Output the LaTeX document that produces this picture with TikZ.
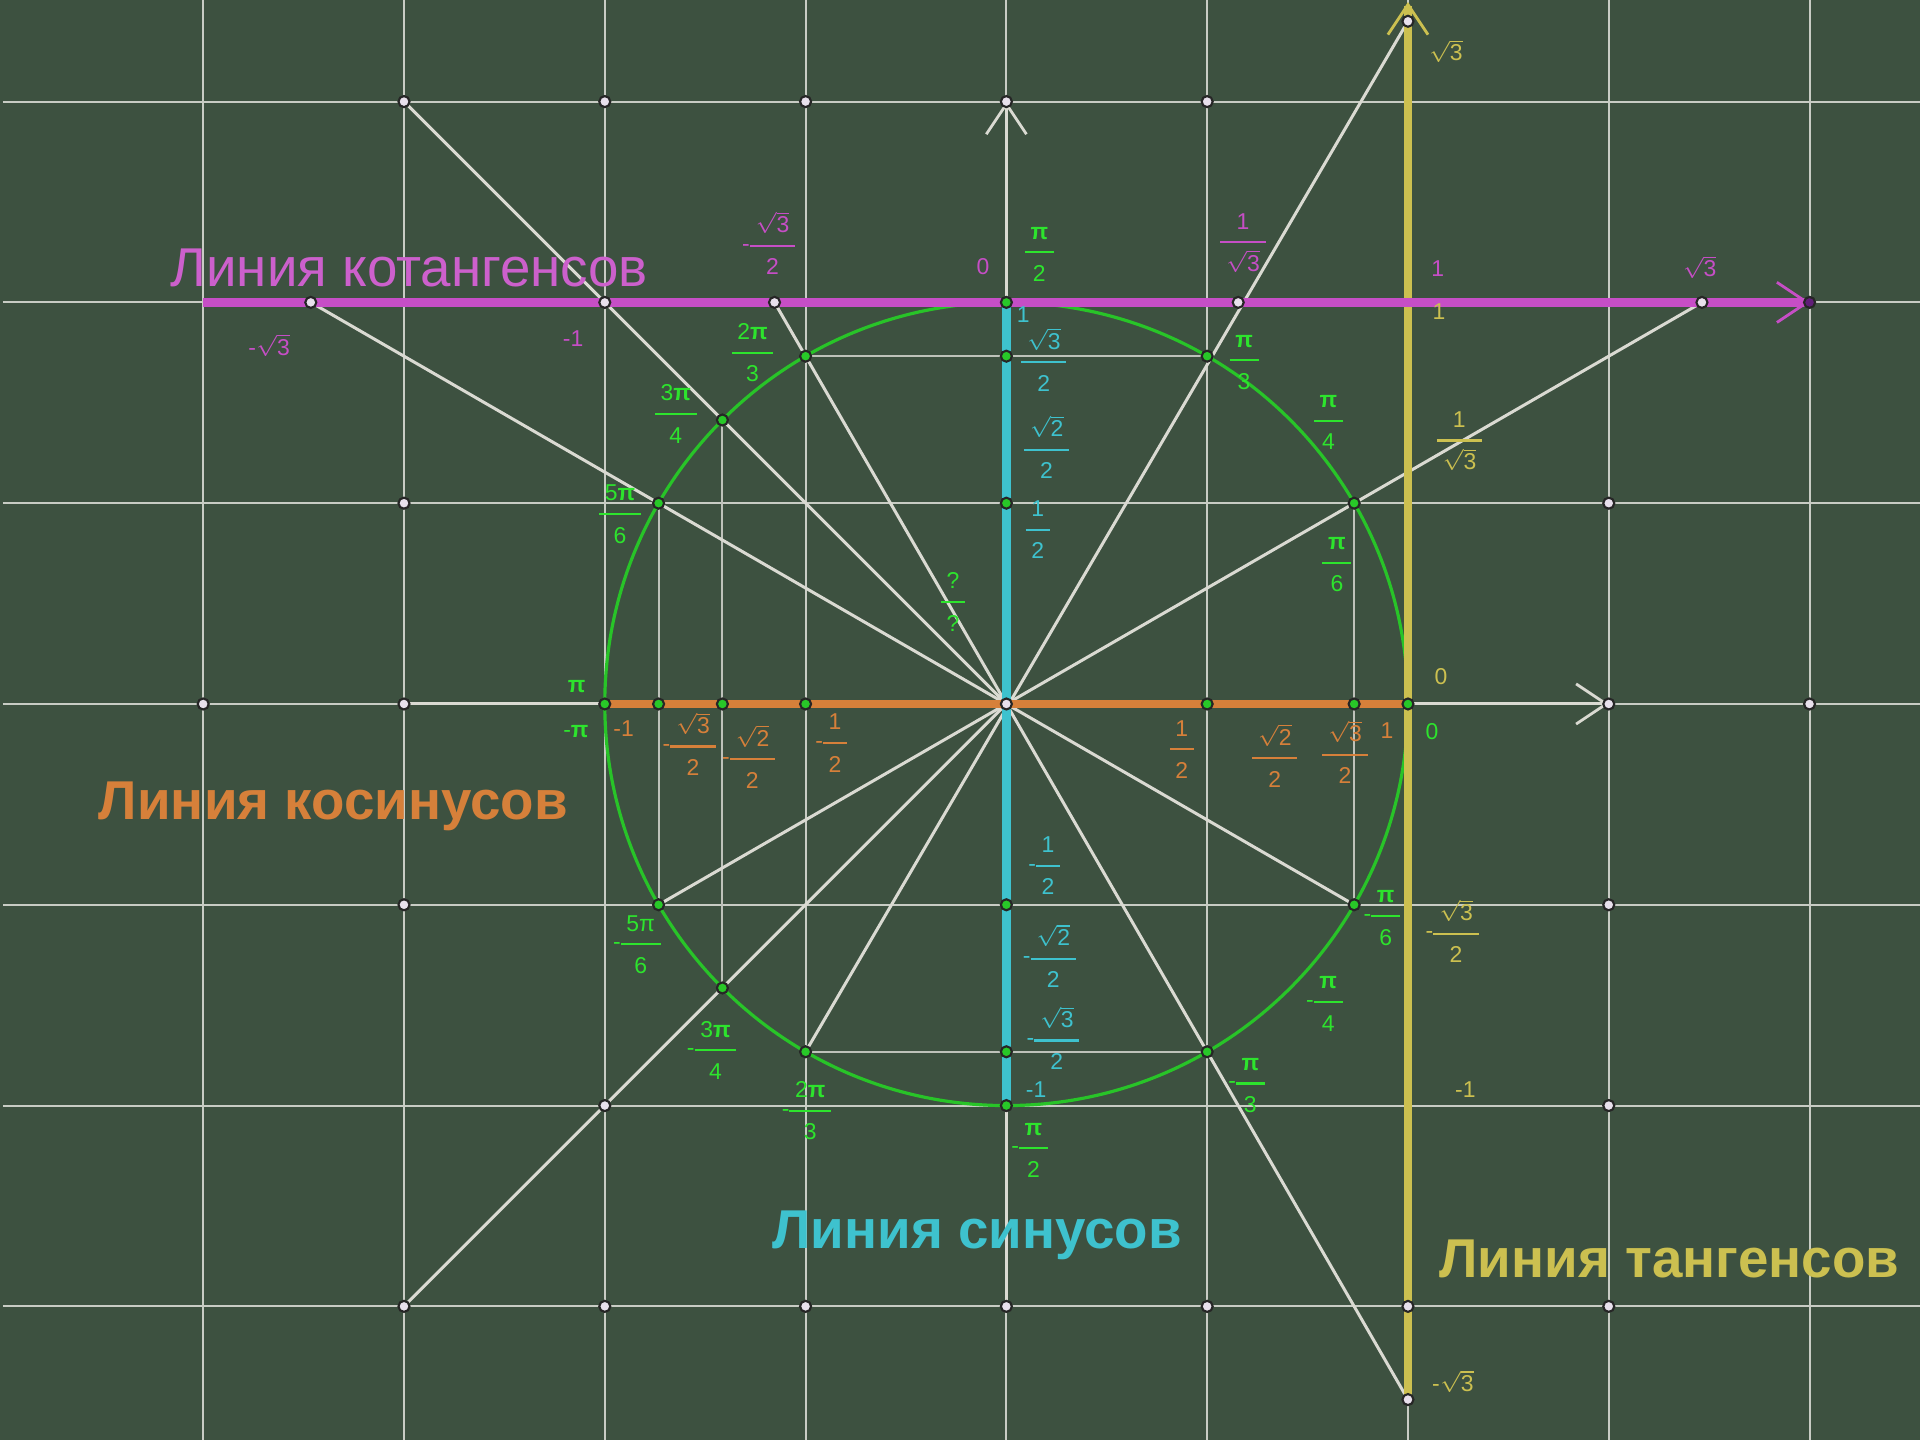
\documentclass[tikz,border=0pt]{standalone}
\usepackage{fontspec}
\setmainfont{Liberation Sans}
\usetikzlibrary{arrows.meta}

\definecolor{board}{RGB}{61,81,64}
\definecolor{gridc}{RGB}{200,204,196}
\definecolor{rayc}{RGB}{218,218,210}
\definecolor{projc}{RGB}{190,194,186}
\definecolor{circc}{RGB}{40,196,40}
\definecolor{dotg}{RGB}{40,200,40}
\definecolor{dotw}{RGB}{232,224,236}
\definecolor{dotp}{RGB}{96,30,120}
\definecolor{labg}{RGB}{45,228,45}
\definecolor{sinc}{RGB}{62,194,206}
\definecolor{cosc}{RGB}{214,128,58}
\definecolor{tanc}{RGB}{204,192,80}
\definecolor{cotc}{RGB}{198,78,198}

\newcommand{\fr}[2]{{\renewcommand{\arraystretch}{1.42}\setlength{\tabcolsep}{1.6pt}\setlength{\arrayrulewidth}{0.6pt}\begin{tabular}{c}#1\\\hline #2\end{tabular}}}
\newcommand{\mfr}[2]{-\fr{#1}{#2}}
\newcommand{\sq}[1]{$\sqrt{\hbox{#1}}$}
\newcommand{\bpi}{\textbf{π}}

\tikzset{
  barb/.tip={Straight Barb[length=3mm,width=4mm,line width=0.8pt]},
  gridline/.style={draw=gridc, line width=0.55pt},
  ray/.style={draw=rayc, line width=0.85pt},
  proj/.style={draw=projc, line width=0.6pt},
  trig/.style={line width=2.4pt},
  gdot/.style={circle, fill=dotg, draw=black!85, line width=0.6pt, inner sep=0pt, minimum size=1.1mm},
  wdot/.style={gdot, fill=dotw},
  lab/.style={font=\fontsize{6.5}{8}\selectfont, inner sep=0pt},
  linetitle/.style={font=\fontsize{15.5}{18}\selectfont\bfseries, inner sep=0pt, anchor=base}
}

\begin{document}
\begin{tikzpicture}[x=4cm, y=4cm]
    \useasboundingbox (-2.506,-1.833) rectangle (2.275,1.753);
    \fill[board] (-2.506,-1.833) rectangle (2.275,1.753);
    \draw[gridline, step=0.5] (-2.499,-1.833) grid (2.275,1.753);

    % points
    \coordinate (O) at (0,0);
    \foreach \a/\n in {0/a0,30/a30,60/a60,90/a90,120/a120,135/a135,150/a150,180/a180,
        -30/m30,-60/m60,-90/m90,-120/m120,-135/m135,-150/m150}
        \coordinate (\n) at (\a:1);
    \coordinate (s1) at (0,{sqrt(3)/2});
    \coordinate (s2) at (0,0.5);
    \coordinate (s3) at (0,-0.5);
    \coordinate (s4) at (0,{-sqrt(3)/2});
    \coordinate (c1) at ({-sqrt(3)/2},0);
    \coordinate (c2) at ({-sqrt(2)/2},0);
    \coordinate (c3) at (-0.5,0);
    \coordinate (c4) at (0.5,0);
    \coordinate (c5) at ({sqrt(3)/2},0);
    \coordinate (ks) at (-2,1);
    \coordinate (k1) at ({-sqrt(3)},1);
    \coordinate (k2) at (-1,1);
    \coordinate (k3) at ({-1/sqrt(3)},1);
    \coordinate (k4) at ({1/sqrt(3)},1);
    \coordinate (k5) at ({sqrt(3)},1);
    \coordinate (ke) at (2,1);
    \coordinate (t1) at (1,1.70);
    \coordinate (t2) at (1,{-sqrt(3)});
    \coordinate (te) at (1,1.748);
    \coordinate (xl) at (-1.5,0);
    \coordinate (xr) at (1.5,0);
    \coordinate (yb) at (0,-1.5);
    \coordinate (yt) at (0,1.5);
    \coordinate (g1) at (-1.5,1.5);
    \coordinate (g2) at (-1.5,-1.5);

    % projections and rays
    \draw[proj] (a120) -- (a60);
    \draw[proj] (m120) -- (m60);
    \draw[proj] (a150) -- (m150);
    \draw[proj] (a135) -- (m135);
    \draw[proj] (a30) -- (m30);
    \draw[ray] (k1) -- (m30);
    \draw[ray] (k3) -- (t2);
    \draw[ray] (m150) -- (k5);
    \draw[ray] (m120) -- (t1);
    \draw[ray] (g1) -- (O);
    \draw[ray] (g2) -- (O);
    \draw[ray, -barb] (xl) -- (xr);
    \draw[ray, -barb] (yb) -- (yt);

    \draw[draw=circc, line width=0.9pt] (O) circle (1);

    % the four lines
    \draw[trig, cosc] (a180) -- (a0);
    \draw[trig, sinc] (m90) -- (a90);
    \draw[trig, tanc, -barb] (t2) -- (te);
    \draw[trig, cotc, -barb] (ks) -- (ke);

    % dots
    \foreach \n in {a0,a30,a60,a90,a120,a135,a150,a180,m30,m60,m90,m120,m135,m150,
        s1,s2,s3,s4,c1,c2,c3,c4,c5}
        \node[gdot] (d\n) at (\n) {};
    \foreach \n in {O,k1,k2,k3,k4,k5,t1,t2}
        \node[wdot] (d\n) at (\n) {};
    \foreach \p [count=\i] in {(-1.5,1.5),(-1,1.5),(-0.5,1.5),(0,1.5),(0.5,1.5),
        (-1.5,0.5),(1.5,0.5),(-2,0),(-1.5,0),(1.5,0),(2,0),(-1.5,-0.5),(1.5,-0.5),
        (-1,-1),(1.5,-1),(-1.5,-1.5),(-1,-1.5),(-0.5,-1.5),(0,-1.5),(0.5,-1.5),
        (1,-1.5),(1.5,-1.5)}
        \node[wdot] (w\i) at \p {};
    \node[gdot, fill=dotp] (dke) at (ke) {};

    % angles
    \node[lab, labg] (gpi2) at (0.082,1.125) {\fr{\bpi}{2}};
    \node[lab, labg] (g2pi3) at (-0.632,0.875) {\fr{2\bpi}{3}};
    \node[lab, labg] (g3pi4) at (-0.823,0.722) {\fr{3\bpi}{4}};
    \node[lab, labg] (g5pi6) at (-0.962,0.473) {\fr{5\bpi}{6}};
    \node[lab, labg] (gpi) at (-1.07,0.043) {\bpi};
    \node[lab, labg] (gmpi) at (-1.072,-0.069) {-\bpi};
    \node[lab, labg] (gm5pi6) at (-0.92,-0.598) {\mfr{5π}{6}};
    \node[lab, labg] (gm3pi4) at (-0.734,-0.862) {\mfr{3\bpi}{4}};
    \node[lab, labg] (gm2pi3) at (-0.498,-1.013) {\mfr{2\bpi}{3}};
    \node[lab, labg] (gmpi2) at (0.058,-1.106) {\mfr{\bpi}{2}};
    \node[lab, labg] (gmpi3) at (0.598,-0.945) {\mfr{\bpi}{3}};
    \node[lab, labg] (gmpi4) at (0.792,-0.742) {\mfr{\bpi}{4}};
    \node[lab, labg] (gmpi6) at (0.935,-0.528) {\mfr{\bpi}{6}};
    \node[lab, labg] (gpi6) at (0.823,0.352) {\fr{\bpi}{6}};
    \node[lab, labg] (gpi4) at (0.802,0.705) {\fr{\bpi}{4}};
    \node[lab, labg] (gpi3) at (0.592,0.856) {\fr{\bpi}{3}};
    \node[lab, labg] (gzero) at (1.06,-0.068) {0};
    \node[lab, labg] (gq) at (-0.133,0.254) {\fr{?}{?}};

    % cosines
    \node[lab, cosc] (cm1) at (-0.953,-0.061) {-1};
    \node[lab, cosc] (cm3) at (-0.79,-0.106) {\mfr{\sq{3}}{2}};
    \node[lab, cosc] (cm2) at (-0.642,-0.138) {\mfr{\sq{2}}{2}};
    \node[lab, cosc] (cmh) at (-0.436,-0.097) {\mfr{1}{2}};
    \node[lab, cosc] (cph) at (0.437,-0.113) {\fr{1}{2}};
    \node[lab, cosc] (cp2) at (0.668,-0.135) {\fr{\sq{2}}{2}};
    \node[lab, cosc] (cp3) at (0.843,-0.126) {\fr{\sq{3}}{2}};
    \node[lab, cosc] (cp1) at (0.948,-0.066) {1};

    % sines
    \node[lab, sinc] (sp1) at (0.042,0.97) {1};
    \node[lab, sinc] (sp3) at (0.093,0.851) {\fr{\sq{3}}{2}};
    \node[lab, sinc] (sp2) at (0.1,0.633) {\fr{\sq{2}}{2}};
    \node[lab, sinc] (sph) at (0.078,0.434) {\fr{1}{2}};
    \node[lab, sinc] (smh) at (0.094,-0.403) {\mfr{1}{2}};
    \node[lab, sinc] (sm2) at (0.107,-0.634) {\mfr{\sq{2}}{2}};
    \node[lab, sinc] (sm3) at (0.116,-0.838) {\mfr{\sq{3}}{2}};
    \node[lab, sinc] (sm1) at (0.074,-0.961) {-1};

    % tangents
    \node[lab, tanc] (tp3) at (1.094,1.626) {\sq{3}};
    \node[lab, tanc] (tp1) at (1.077,0.978) {1};
    \node[lab, tanc] (tpr) at (1.128,0.656) {\fr{1}{\sq{3}}};
    \node[lab, tanc] (tz) at (1.082,0.069) {0};
    \node[lab, tanc] (tm3) at (1.11,-0.572) {\mfr{\sq{3}}{2}};
    \node[lab, tanc] (tm1) at (1.143,-0.96) {-1};
    \node[lab, tanc] (tms) at (1.112,-1.687) {-\sq{3}};

    % cotangents
    \node[lab, cotc] (kms) at (-1.836,0.893) {-\sq{3}};
    \node[lab, cotc] (km1) at (-1.079,0.91) {-1};
    \node[lab, cotc] (km3) at (-0.592,1.141) {\mfr{\sq{3}}{2}};
    \node[lab, cotc] (kz) at (-0.058,1.088) {0};
    \node[lab, cotc] (kpr) at (0.589,1.15) {\fr{1}{\sq{3}}};
    \node[lab, cotc] (kp1) at (1.074,1.085) {1};
    \node[lab, cotc] (kps) at (1.726,1.088) {\sq{3}};

    % titles
    \node[linetitle, cotc!90!white, font=\fontsize{15.5}{18}\selectfont] (tcot) at (-1.487,1.04) {Линия котангенсов};
    \node[linetitle, cosc] (tcos) at (-1.676,-0.287) {Линия косинусов};
    \node[linetitle, sinc] (tsin) at (-0.073,-1.355) {Линия синусов};
    \node[linetitle, tanc] (ttan) at (1.651,-1.428) {Линия тангенсов};
\end{tikzpicture}
\end{document}
